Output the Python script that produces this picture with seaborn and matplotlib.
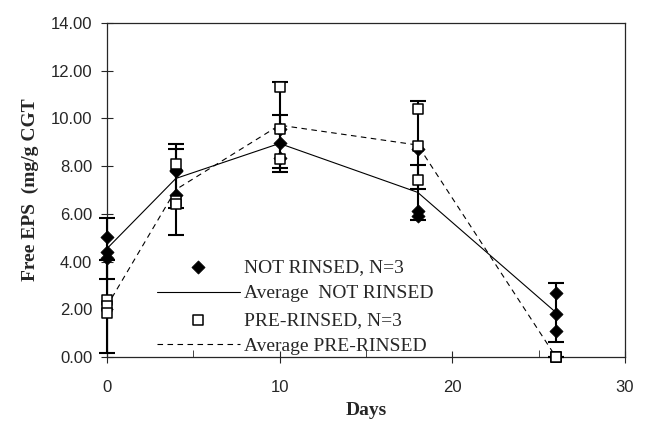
import matplotlib
matplotlib.use("Agg")
import matplotlib.pyplot as plt
from matplotlib.ticker import MultipleLocator
import numpy as np
import pandas as pd
import seaborn as sns

# --- data ---
days = [0, 4, 10, 18, 26]
not_rinsed = [
    [5.05, 4.40, 4.15],
    [7.85, 7.80, 6.80],
    [9.55, 8.95, 8.35],
    [8.70, 6.10, 5.90],
    [2.70, 1.80, 1.10],
]
pre_rinsed = [
    [2.38, 2.12, 1.85],
    [8.10, 6.55, 6.40],
    [11.30, 9.55, 8.30],
    [10.40, 8.85, 7.40],
    [0.00, 0.00, 0.00],
]
not_err = [1.28, 1.22, 1.21, 1.15, 1.23]
pre_err = [1.93, 1.89, 1.80, 1.85, 0.00]

label_not = "NOT RINSED, N=3"
label_not_avg = "Average  NOT RINSED"
label_pre = "PRE-RINSED, N=3"
label_pre_avg = "Average PRE-RINSED"

rows = []
for d, vals in zip(days, not_rinsed):
    for v in vals:
        rows.append({"day": d, "eps": v, "group": "not"})
for d, vals in zip(days, pre_rinsed):
    for v in vals:
        rows.append({"day": d, "eps": v, "group": "pre"})
df = pd.DataFrame(rows)
df_not = df[df["group"] == "not"]
df_pre = df[df["group"] == "pre"]

sns.set_style("ticks")
plt.rcParams["font.family"] = ["Liberation Serif", "DejaVu Serif"]

fig = plt.figure(figsize=(6.47, 4.38), dpi=100)
ax = fig.add_axes([0.165, 0.185, 0.801, 0.7625])

# average lines (seaborn computes the mean per day)
sns.lineplot(data=df_not, x="day", y="eps", estimator="mean", errorbar=None,
             color="black", linewidth=0.8, ax=ax, label=label_not_avg, zorder=2)
sns.lineplot(data=df_pre, x="day", y="eps", estimator="mean", errorbar=None,
             color="black", linewidth=0.8, ax=ax, label=label_pre_avg, zorder=2)
ax.lines[1].set_dashes([5, 4])

# error bars around the means
mean_not = df_not.groupby("day")["eps"].mean()
mean_pre = df_pre.groupby("day")["eps"].mean()
for means, err in [(mean_not, not_err), (mean_pre, pre_err)]:
    eb = ax.errorbar(days, means.values, yerr=err, fmt="none", ecolor="black",
                     elinewidth=1.5, capsize=6, capthick=1.5, zorder=3)
    for art in eb.lines[1] + eb.lines[2]:
        art.set_clip_on(False)

# individual points
sns.scatterplot(data=df_not, x="day", y="eps", marker="D", s=45, color="black",
                edgecolor="black", linewidth=0.5, ax=ax, label=label_not, zorder=4)
sns.scatterplot(data=df_pre, x="day", y="eps", marker="s", s=55, facecolor="white",
                edgecolor="black", linewidth=1.1, ax=ax, label=label_pre, zorder=4)
for coll in ax.collections:
    coll.set_clip_on(False)

ax.set_xlim(0, 30)
ax.set_ylim(0, 14)
ax.xaxis.set_major_locator(MultipleLocator(10))
ax.xaxis.set_minor_locator(MultipleLocator(5))
ax.yaxis.set_major_locator(MultipleLocator(2))
ax.set_yticklabels([f"{v:.2f}" for v in ax.get_yticks()])
ax.tick_params(axis="both", which="major", direction="inout", length=9, width=0.8,
               labelsize=12, pad=6)
ax.tick_params(axis="x", which="major", pad=12)
ax.tick_params(axis="x", which="minor", direction="in", length=5, width=0.6)
for lab in ax.get_xticklabels() + ax.get_yticklabels():
    lab.set_family(["Liberation Sans", "DejaVu Sans"])
for sp in ax.spines.values():
    sp.set_visible(True)
    sp.set_linewidth(0.9)

ax.set_xlabel("Days", fontsize=14, fontweight="bold", labelpad=5)
ax.set_ylabel("Free EPS  (mg/g CGT", fontsize=14, fontweight="bold", labelpad=8)

handles, labels = ax.get_legend_handles_labels()
order = [label_not, label_not_avg, label_pre, label_pre_avg]
hmap = dict(zip(labels, handles))
ax.legend([hmap[k] for k in order], order, loc="lower left",
          bbox_to_anchor=(0.07, -0.035), frameon=False, fontsize=14,
          handlelength=4.3, handletextpad=0.2, labelspacing=0.45, borderpad=0.2)

fig.savefig("out.png", dpi=100)
